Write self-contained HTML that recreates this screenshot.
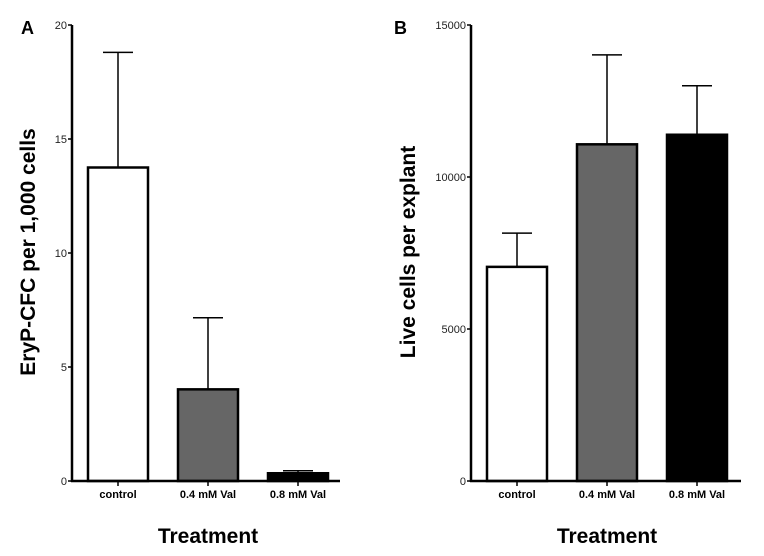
<!DOCTYPE html>
<html><head><meta charset="utf-8"><style>body{margin:0;background:#fff}svg{display:block;font-family:"Liberation Sans",Arial,sans-serif}</style></head>
<body>
<svg id="c" width="764" height="556">
<text x="21" y="34" font-size="18" font-weight="bold">A</text>
<text x="394" y="34" font-size="18" font-weight="bold">B</text>
</svg>
<script>
const categories=["control","0.4 mM Val","0.8 mM Val"];
const fills=["#ffffff","#666666","#000000"];
const valuesA=[13.75,4.02,0.34];
const errorsA=[18.8,7.16,0.45];
const ticksA=[0,5,10,15,20];
const valuesB=[7044,11075,11390];
const errorsB=[8155,14019,13002];
const ticksB=[0,5000,10000,15000];
const NS="http://www.w3.org/2000/svg";
const svg=document.getElementById('c');
function mk(t,a,p){const e=document.createElementNS(NS,t);for(const k in a)e.setAttribute(k,a[k]);(p||svg).appendChild(e);return e;}
function panel(px,axisEnd,yMax,vals,errs,ticks,title,titleX,pname){
  const top=25,bot=481;
  const y=v=>bot-(v/yMax)*(bot-top);
  const g=mk('g',{});
  
  
  const bw=60,gap=90,x0=px+16;
  vals.forEach((v,i)=>{
    const bx=x0+i*gap, cx=bx+bw/2;
    const eb=mk('line',{x1:cx,x2:cx,y1:y(v),y2:y(errs[i]),stroke:'#000','stroke-width':1.5},g);
    
    
    const cap=mk('line',{x1:cx-15,x2:cx+15,y1:y(errs[i]),y2:y(errs[i]),stroke:'#000','stroke-width':1.5},g);
    
    
    const r=mk('rect',{x:bx,y:y(v),width:bw,height:bot-y(v),fill:fills[i],stroke:'#000','stroke-width':2.5},g);
    
    
    const tk=mk('line',{x1:cx,x2:cx,y1:bot,y2:bot+5,stroke:'#000','stroke-width':1.5},g);
    
    
    const t=mk('text',{x:cx,y:bot+17,'font-size':11,'font-weight':'bold','text-anchor':'middle'},g);
    t.textContent=categories[i];
    
    
  });
  const ya=mk('line',{x1:px,x2:px,y1:top,y2:bot+1,stroke:'#000','stroke-width':2.5},g);
  
  
  const xa=mk('line',{x1:px-1,x2:axisEnd,y1:bot,y2:bot,stroke:'#000','stroke-width':2.5},g);
  
  
  ticks.forEach(v=>{
    const l=mk('line',{x1:px-4,x2:px,y1:y(v),y2:y(v),stroke:'#000','stroke-width':1.5},g);
    
    
    const t=mk('text',{x:px-5,y:y(v)+4,'font-size':11,'text-anchor':'end',fill:'#222'},g);
    t.textContent=v;
    
    
  });
  const xt=mk('text',{x:px+136,y:543,'font-size':21,'font-weight':'bold','text-anchor':'middle'},g);
  xt.textContent='Treatment';
  
  
  const yt=mk('text',{x:0,y:0,'font-size':21,'font-weight':'bold','text-anchor':'middle',transform:`translate(${titleX},252) rotate(-90)`},g);
  yt.textContent=title;
  
  
}
panel(72,340,20,valuesA,errorsA,ticksA,'EryP-CFC per 1,000 cells',35,'panel-a');
panel(471,741,15000,valuesB,errorsB,ticksB,'Live cells per explant',415,'panel-b');
</script>
</body></html>
